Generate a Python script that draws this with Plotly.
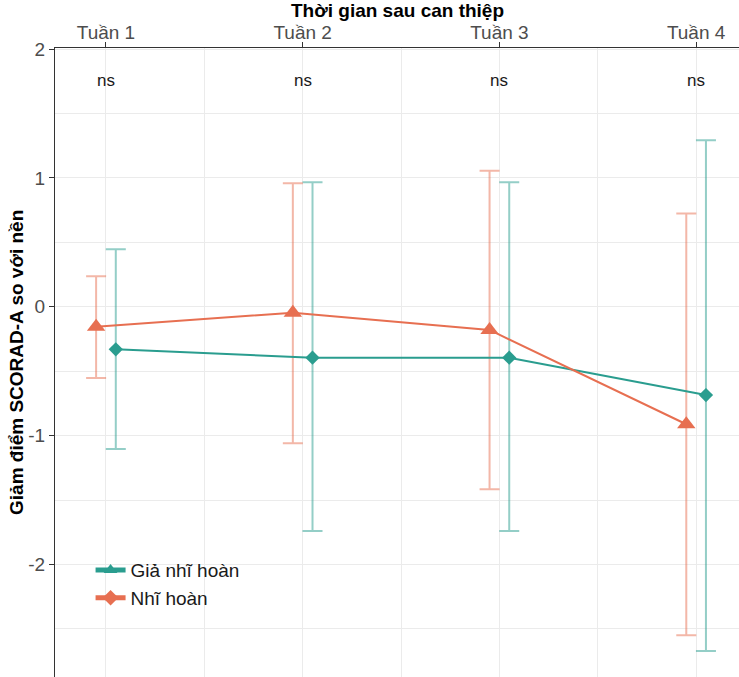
import plotly.graph_objects as go

weeks = ["Tuần 1", "Tuần 2", "Tuần 3", "Tuần 4"]
groups = ["Giả nhĩ hoàn", "Nhĩ hoàn"]
y_ticks = [-2, -1, 0, 1, 2]
y_ticktext = ["-2", "-1", "0", "1", "2"]

# Giả nhĩ hoàn (teal)
sham_mean = [-0.33, -0.395, -0.395, -0.685]
sham_lower = [-1.104, -1.74, -1.74, -2.672]
sham_upper = [0.446, 0.967, 0.967, 1.293]

# Nhĩ hoàn (orange)
ear_mean = [-0.155, -0.046, -0.18, -0.912]
ear_lower = [-0.553, -1.06, -1.417, -2.55]
ear_upper = [0.237, 0.96, 1.057, 0.724]

sig_labels = ["ns", "ns", "ns", "ns"]
sig_y = 1.76

TEAL = "#2A9D8F"
ORANGE = "#E76F51"
TEAL_A = "rgba(42,157,143,0.5)"
ORANGE_A = "rgba(231,111,81,0.5)"
FONT = "Liberation Sans, Arial, sans-serif"

pos = list(range(1, len(weeks) + 1))
dodge = 0.05
x_sham = [p + dodge for p in pos]
x_ear = [p - dodge for p in pos]

fig = go.Figure()

# error bars (drawn below lines)
for xs, m, lo, hi, col in [(x_sham, sham_mean, sham_lower, sham_upper, TEAL_A),
                           (x_ear, ear_mean, ear_lower, ear_upper, ORANGE_A)]:
    fig.add_trace(go.Scatter(
        x=xs, y=m, mode="markers",
        marker=dict(color="rgba(0,0,0,0)", size=1),
        error_y=dict(type="data", symmetric=False,
                     array=[h - v for h, v in zip(hi, m)],
                     arrayminus=[v - l for v, l in zip(m, lo)],
                     color=col, thickness=2, width=10),
        showlegend=False, hoverinfo="skip"))

# lines + points
fig.add_trace(go.Scatter(
    x=x_sham, y=sham_mean, mode="lines+markers",
    line=dict(color=TEAL, width=2),
    marker=dict(symbol="diamond", size=11, color=TEAL),
    showlegend=False, name=groups[0]))
fig.add_trace(go.Scatter(
    x=x_ear, y=ear_mean, mode="lines+markers",
    line=dict(color=ORANGE, width=2),
    marker=dict(symbol="triangle-up", size=16, color=ORANGE),
    showlegend=False, name=groups[1]))

# legend entries (as in the reference)
fig.add_trace(go.Scatter(
    x=[None], y=[None], mode="lines+markers", name=groups[0],
    line=dict(color=TEAL, width=2),
    marker=dict(symbol="triangle-up", size=15, color=TEAL)))
fig.add_trace(go.Scatter(
    x=[None], y=[None], mode="lines+markers", name=groups[1],
    line=dict(color=ORANGE, width=2),
    marker=dict(symbol="diamond", size=11, color=ORANGE)))

annotations = []
for p, lab in zip(pos, sig_labels):
    annotations.append(dict(x=p, y=sig_y, xref="x", yref="y", text=lab,
                            showarrow=False, font=dict(size=17, color="#1a1a1a", family=FONT),
                            xanchor="center", yanchor="middle"))
annotations.append(dict(x=0.5, y=1.06, xref="paper", yref="paper",
                        text="<b>Thời gian sau can thiệp</b>", showarrow=False,
                        font=dict(size=19, color="#000000", family=FONT),
                        xanchor="center", yanchor="middle"))
annotations.append(dict(x=-0.0563, y=0.5, xref="paper", yref="paper",
                        text="<b>Giảm điểm SCORAD-A so với nền</b>", showarrow=False,
                        textangle=-90,
                        font=dict(size=19, color="#000000", family=FONT),
                        xanchor="center", yanchor="middle"))

GRID = "#EBEBEB"

fig.update_layout(
    width=739, height=677,
    margin=dict(l=55, r=0, t=48, b=0),
    paper_bgcolor="white", plot_bgcolor="white",
    font=dict(family=FONT),
    annotations=annotations,
    shapes=[dict(type="rect", xref="paper", yref="paper",
                 x0=0.0439, x1=0.3845, y0=0.0938, y1=0.2051,
                 fillcolor="white", line=dict(width=0), layer="between")],
    legend=dict(x=0.052, y=0.2, xanchor="left", yanchor="top",
                bgcolor="rgba(0,0,0,0)", font=dict(size=19, color="#1a1a1a", family=FONT),
                tracegroupgap=0, itemsizing="constant"),
    xaxis=dict(range=[0.741, 4.218], side="top",
               tickvals=pos, ticktext=weeks,
               tickfont=dict(size=19, color="#4D4D4D", family=FONT),
               ticklabelstandoff=-5,
               showline=True, linecolor="#333333", linewidth=1.2,
               ticks="outside", ticklen=5, tickcolor="#333333", tickwidth=1.2,
               showgrid=True, gridcolor=GRID, gridwidth=1.3,
               minor=dict(tickvals=[1.5, 2.5, 3.5], showgrid=True,
                          gridcolor=GRID, gridwidth=0.8, ticks=""),
               zeroline=False, fixedrange=True),
    yaxis=dict(range=[-2.874, 2.009],
               tickvals=y_ticks, ticktext=y_ticktext,
               tickfont=dict(size=19, color="#4D4D4D", family=FONT),
               showline=True, linecolor="#333333", linewidth=1.2,
               ticks="outside", ticklen=5, tickcolor="#333333", tickwidth=1.2,
               showgrid=True, gridcolor=GRID, gridwidth=1.3,
               minor=dict(dtick=0.5, showgrid=True, gridcolor=GRID, gridwidth=0.8, ticks=""),
               zeroline=False, fixedrange=True),
)

fig.write_html("out.html")
